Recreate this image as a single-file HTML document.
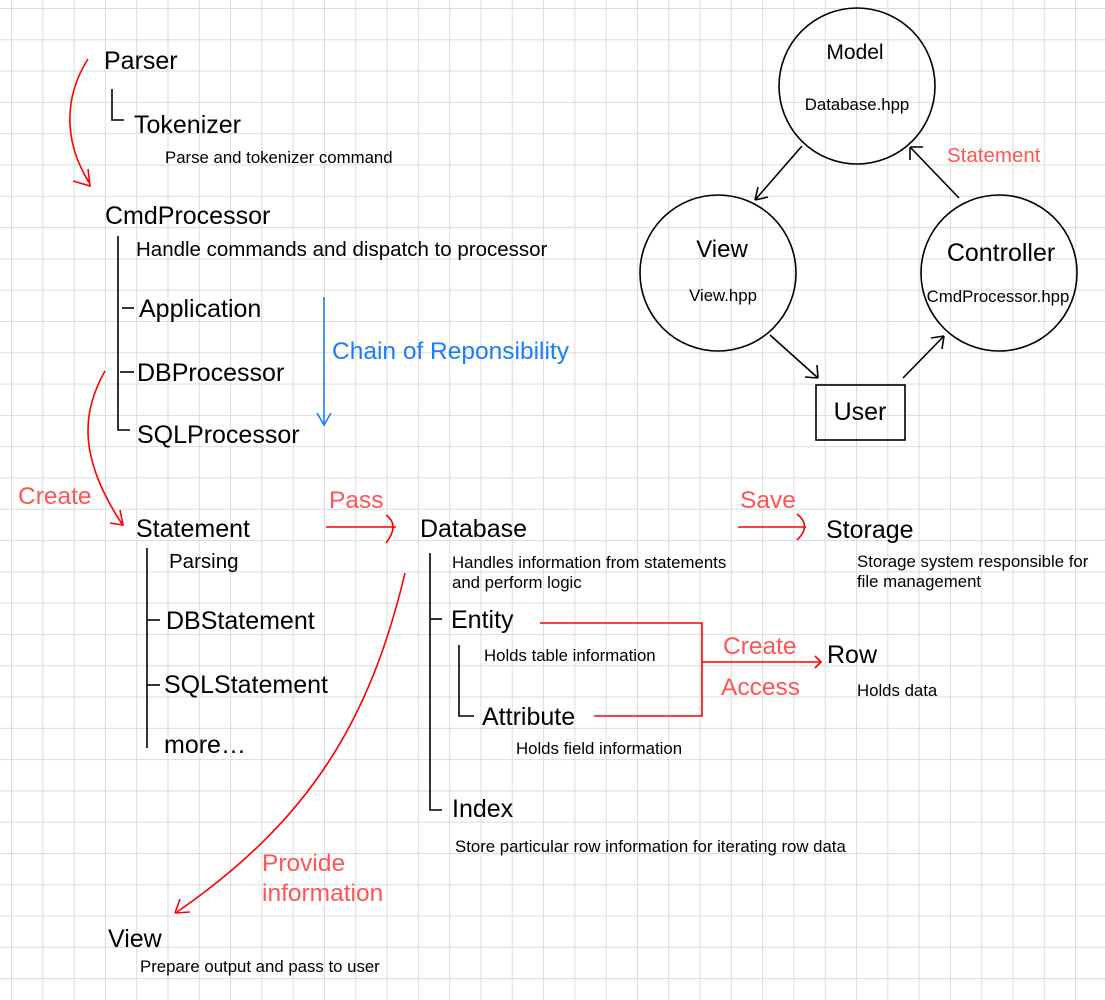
<!DOCTYPE html>
<html><head><meta charset="utf-8"><style>
html,body{margin:0;padding:0;}
body{width:1105px;height:1000px;background:#fff;
background-image:linear-gradient(to right,#dcdcdc 1px,transparent 1px),linear-gradient(to bottom,#dcdcdc 1px,transparent 1px);
background-size:31.3px 31.3px;background-position:11px 8px;overflow:hidden;}
svg{position:absolute;left:0;top:0;}
text{font-family:"Liberation Sans",sans-serif;fill:#000;}
.b{font-size:25px;}
.s{font-size:16.8px;}
.r{fill:#f55;font-size:24.5px;}
</style></head><body>
<svg width="1105" height="1000" viewBox="0 0 1105 1000">
<g fill="none" stroke="#000" stroke-width="1.6">
<path d="M112 89 V120 H124"/>
<path d="M118 236 V430 H130"/>
<path d="M122 308 H134"/>
<path d="M120 372 H134"/>
<path d="M147 548 V748"/>
<path d="M147 620 H160"/>
<path d="M147 685 H160"/>
<path d="M430 553 V810 H442"/>
<path d="M430 619 H442"/>
<path d="M459 645 V716 H474"/>
<circle cx="857" cy="86" r="78"/>
<circle cx="718" cy="273" r="78"/>
<circle cx="999" cy="273" r="78"/>
<rect x="816" y="385" width="89" height="55"/>
<path d="M802 146 L755 200"/><path d="M755 200 L768 197 M755 200 L758 187"/>
<path d="M770 335 L818 378"/><path d="M818 378 L805 377 M818 378 L817 365"/>
<path d="M903 378 L944 336"/><path d="M944 336 L931 338 M944 336 L942 349"/>
<path d="M959 198 L910 147"/><path d="M910 147 L910 160 M910 147 L923 147"/>
</g>
<g fill="none" stroke="#1a7cff" stroke-width="1.6">
<path d="M324 297 V425"/><path d="M317 413 L324 425 L331 413"/>
</g>
<g fill="none" stroke="#f00" stroke-width="1.6">
<path d="M88 59 C65 95 62 140 90 184"/><path d="M73 181 L90 186 L88 169"/>
<path d="M105 371 C80 415 80 460 122 524"/><path d="M110 523 L123 525 L120 510"/>
<path d="M326 527 H396"/><path d="M386 515 Q400 525 386 543"/>
<path d="M738 527 H806"/><path d="M797 514 Q812 526 797 540"/>
<path d="M540 623 H702 V716 H594"/>
<path d="M702 662 H820"/><path d="M815 656 L821 662 L815 668"/>
<path d="M405 573 C370 720 310 820 177 912"/><path d="M175 913 L190 912 M175 913 L180 899"/>
</g>
<text class="b" x="104" y="69">Parser</text>
<text class="b" x="134" y="133">Tokenizer</text>
<text class="s" x="165" y="163">Parse and tokenizer command</text>
<text class="b" x="105" y="224">CmdProcessor</text>
<text x="136" y="256" style="font-size:20.5px">Handle commands and dispatch to processor</text>
<text class="b" x="139" y="317">Application</text>
<text class="b" x="137" y="381">DBProcessor</text>
<text class="b" x="137" y="443">SQLProcessor</text>
<text x="332" y="359" style="font-size:24.5px;fill:#1a7cff">Chain of Reponsibility</text>
<text class="r" x="18" y="504">Create</text>
<text class="b" x="136" y="537">Statement</text>
<text x="169" y="568" style="font-size:20.5px">Parsing</text>
<text class="b" x="166" y="629">DBStatement</text>
<text class="b" x="164" y="693">SQLStatement</text>
<text class="b" x="164" y="753">more…</text>
<text class="r" x="329" y="508">Pass</text>
<text class="b" x="420" y="537">Database</text>
<text class="s" x="452" y="568">Handles information from statements</text>
<text class="s" x="452" y="588">and perform logic</text>
<text class="b" x="451" y="628">Entity</text>
<text class="s" x="484" y="661">Holds table information</text>
<text class="b" x="482" y="725">Attribute</text>
<text class="s" x="516" y="754">Holds field information</text>
<text class="b" x="452" y="817">Index</text>
<text class="s" x="455" y="852">Store particular row information for iterating row data</text>
<text class="r" x="262" y="871">Provide</text>
<text class="r" x="262" y="901">information</text>
<text class="b" x="108" y="947">View</text>
<text class="s" x="140" y="972">Prepare output and pass to user</text>
<text class="r" x="740" y="508">Save</text>
<text class="b" x="826" y="538">Storage</text>
<text class="s" x="857" y="567">Storage system responsible for</text>
<text class="s" x="857" y="587">file management</text>
<text class="r" x="723" y="654">Create</text>
<text class="r" x="721" y="695">Access</text>
<text class="b" x="827" y="663">Row</text>
<text class="s" x="857" y="696">Holds data</text>
<text x="855" y="59" text-anchor="middle" style="font-size:21px">Model</text>
<text class="s" x="857" y="110" text-anchor="middle">Database.hpp</text>
<text x="722" y="257" text-anchor="middle" style="font-size:24px">View</text>
<text class="s" x="723" y="301" text-anchor="middle">View.hpp</text>
<text x="1001" y="261" text-anchor="middle" style="font-size:25px">Controller</text>
<text class="s" x="998" y="302" text-anchor="middle">CmdProcessor.hpp</text>
<text x="860" y="420" text-anchor="middle" style="font-size:25px">User</text>
<text x="947" y="162" style="fill:#f55;font-size:20.5px">Statement</text>
</svg>
</body></html>
